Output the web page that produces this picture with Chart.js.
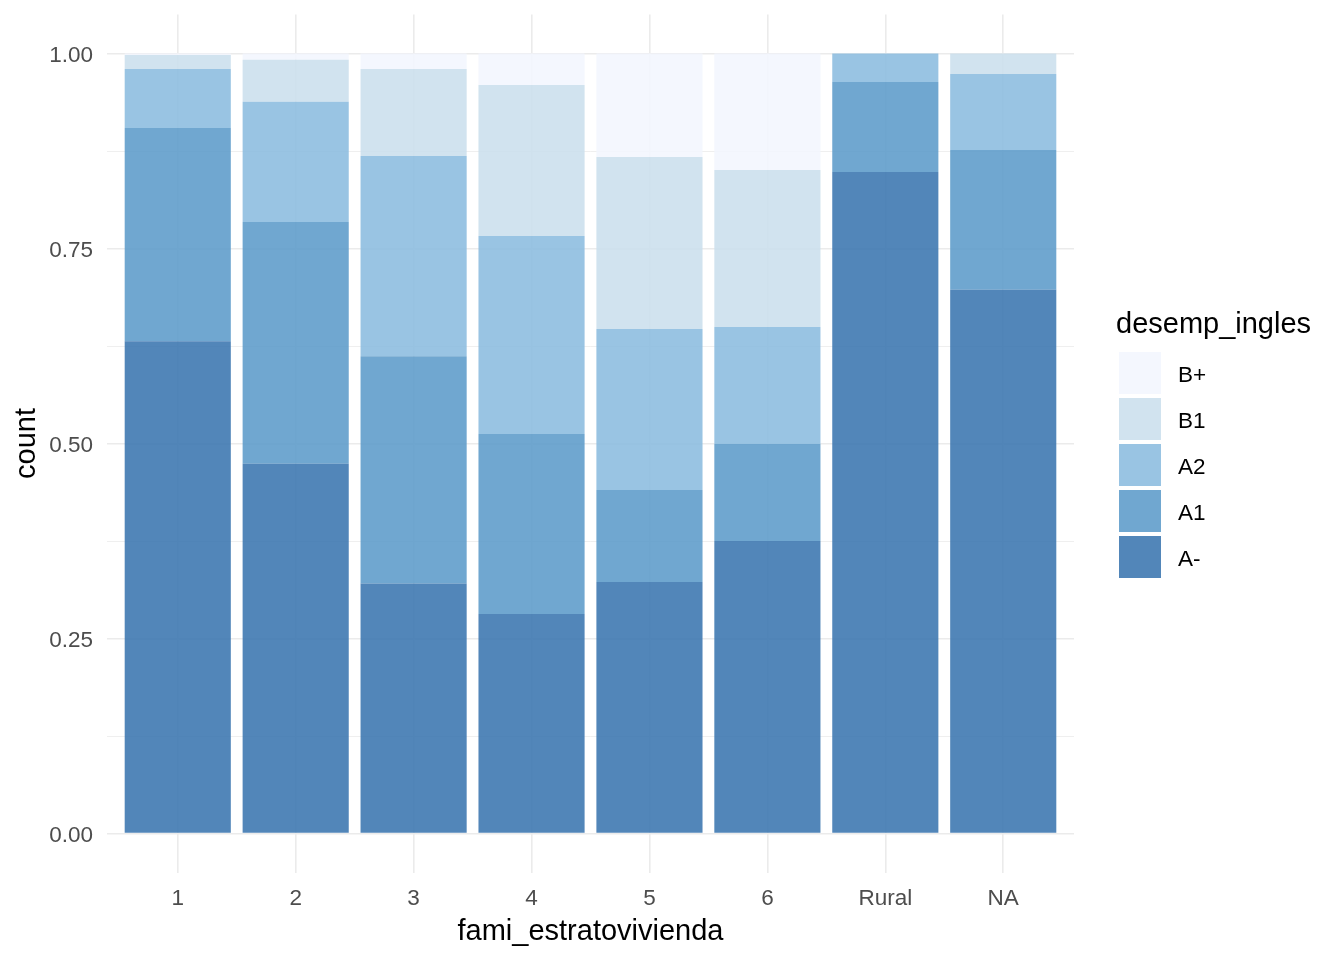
<!DOCTYPE html>
<html>
<head>
<meta charset="utf-8">
<script src="https://cdn.jsdelivr.net/npm/chart.js@4"></script>
<style>
  html, body { margin: 0; padding: 0; background: #ffffff; }
  #wrap { width: 1344px; height: 960px; }
</style>
</head>
<body>
<div id="wrap"><canvas id="c" width="1344" height="960"></canvas></div>
<script>
// Categories on the x axis
const categories = ["1", "2", "3", "4", "5", "6", "Rural", "NA"];
// Legend / fill levels (bottom to top of the stack)
const levels = ["A-", "A1", "A2", "B1", "B+"];
// Proportions of each level within each category (position = "fill")
const valsAminus = [0.631, 0.474, 0.3205, 0.2814, 0.3224, 0.375, 0.848, 0.697];
const valsA1     = [0.2735, 0.310, 0.2915, 0.2308, 0.118, 0.1244, 0.1155, 0.1793];
const valsA2     = [0.0755, 0.154, 0.2566, 0.2538, 0.2064, 0.150, 0.0365, 0.0974];
const valsB1     = [0.018, 0.054, 0.1114, 0.1936, 0.2205, 0.2012, 0.0, 0.0263];
const valsBplus  = [0.002, 0.008, 0.020, 0.0404, 0.1327, 0.1494, 0.0, 0.0];
// Y tick values (major) and minor grid values
const yMajorTicks = [0, 0.25, 0.5, 0.75, 1.0];
const yMinorTicks = [0.125, 0.375, 0.625, 0.875];

const seriesValues = [valsAminus, valsA1, valsA2, valsB1, valsBplus];
const colors = [
  "rgba(63,121,177,0.9)",
  "rgba(97,157,203,0.9)",
  "rgba(142,190,224,0.9)",
  "rgba(204,224,237,0.9)",
  "rgba(243,246,254,0.9)"
];

const FONT = "'Liberation Sans', Arial, sans-serif";
const GRID = "#ebebeb";
const TICK_SIZE = 22.5;
const TITLE_SIZE = 29;

const datasets = levels.map((lvl, i) => ({
  label: lvl,
  data: seriesValues[i].map((v, j) => ({ x: j + 1, y: v })),
  backgroundColor: colors[i],
  borderWidth: 0,
  categoryPercentage: 1.0,
  barPercentage: 0.9
}));

const legendPlugin = {
  id: 'customLegend',
  afterDraw(chart) {
    const ctx = chart.ctx;
    ctx.save();
    ctx.fillStyle = "#000000";
    ctx.font = TITLE_SIZE + "px " + FONT;
    ctx.textAlign = "left";
    ctx.textBaseline = "middle";
    ctx.fillText("desemp_ingles", 1116, 325);
    const order = levels.slice().reverse();
    order.forEach((lvl, k) => {
      const idx = levels.indexOf(lvl);
      const top = 352 + k * 46;
      ctx.fillStyle = colors[idx];
      ctx.fillRect(1119, top, 42, 42);
      ctx.fillStyle = "#000000";
      ctx.font = TICK_SIZE + "px " + FONT;
      ctx.fillText(lvl, 1178, top + 24);
    });
    ctx.restore();
  }
};

new Chart(document.getElementById('c'), {
  type: 'bar',
  data: { datasets },
  plugins: [legendPlugin],
  options: {
    responsive: false,
    animation: false,
    devicePixelRatio: 1,
    layout: { padding: { left: 0, right: 270, top: 14.5, bottom: 0 } },
    plugins: { legend: { display: false }, tooltip: { enabled: false } },
    scales: {
      x: {
        type: 'linear',
        stacked: true,
        offset: false,
        min: 0.4,
        max: 8.6,
        afterBuildTicks(scale) {
          scale.ticks = categories.map((c, i) => ({ value: i + 1 }));
        },
        afterFit(scale) {
          scale.height = 87.5;
          scale.paddingLeft = 0; scale.paddingRight = 0;
          scale.paddingTop = 0; scale.paddingBottom = 0;
        },
        ticks: {
          callback: (v) => categories[Math.round(v) - 1] ?? '',
          color: "#4d4d4d",
          font: { family: FONT, size: TICK_SIZE },
          padding: 13,
          maxRotation: 0,
          autoSkip: false
        },
        grid: { color: GRID, lineWidth: 1.6, drawTicks: false, offset: false },
        border: { display: false },
        title: {
          display: true,
          text: "fami_estratovivienda",
          color: "#000000",
          font: { family: FONT, size: TITLE_SIZE, lineHeight: 1.2 },
          padding: { top: 0, bottom: 11 }
        }
      },
      y: {
        stacked: true,
        min: -0.05,
        max: 1.05,
        afterBuildTicks(scale) {
          scale.ticks = yMajorTicks.concat(yMinorTicks).sort((a, b) => a - b).map(v => ({ value: v }));
        },
        afterFit(scale) {
          scale.width = 107;
          scale.paddingTop = 0; scale.paddingBottom = 0;
          scale.paddingLeft = 0; scale.paddingRight = 0;
        },
        ticks: {
          callback: (v) => yMajorTicks.includes(v) ? v.toFixed(2) : '',
          color: "#4d4d4d",
          font: { family: FONT, size: TICK_SIZE },
          padding: 14,
          labelOffset: 2,
          autoSkip: false
        },
        grid: {
          color: GRID,
          lineWidth: (ctx) => (ctx.tick && yMajorTicks.includes(ctx.tick.value)) ? 1.6 : 0.8,
          drawTicks: false
        },
        border: { display: false },
        title: {
          display: true,
          text: "count",
          color: "#000000",
          font: { family: FONT, size: TITLE_SIZE, lineHeight: 1.2 },
          padding: { top: 10, bottom: 0 }
        }
      }
    }
  }
});
</script>
</body>
</html>
